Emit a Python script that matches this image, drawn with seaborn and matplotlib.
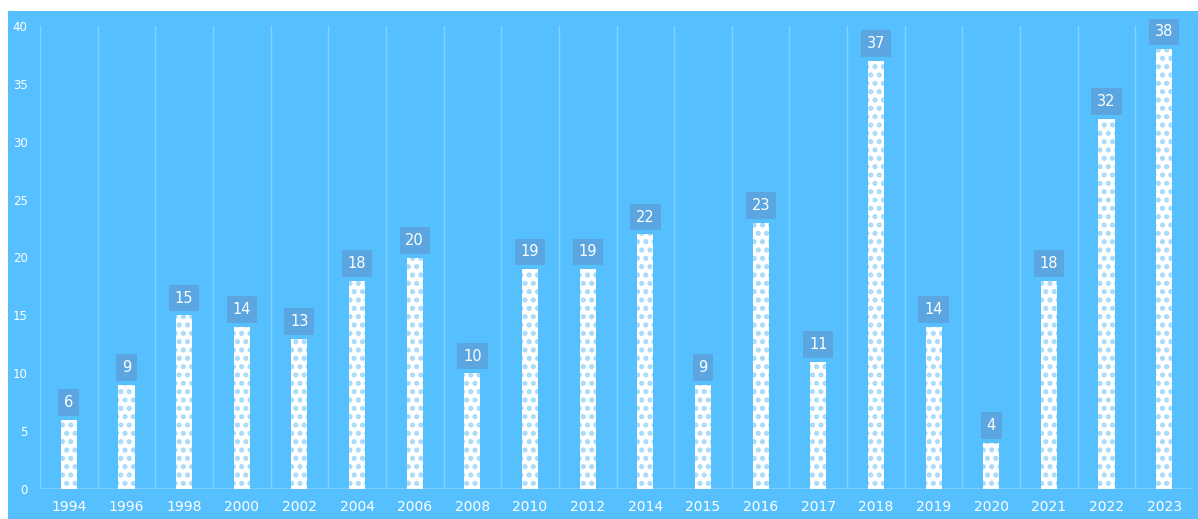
import matplotlib
matplotlib.use("Agg")
import matplotlib.pyplot as plt
from matplotlib.patches import Rectangle
import pandas as pd
import seaborn as sns

years = ["1994", "1996", "1998", "2000", "2002", "2004", "2006", "2008", "2010", "2012",
         "2014", "2015", "2016", "2017", "2018", "2019", "2020", "2021", "2022", "2023"]
counts = [6, 9, 15, 14, 13, 18, 20, 10, 19, 19, 22, 9, 23, 11, 37, 14, 4, 18, 32, 38]

BG = "#56c0ff"
GRID = "#82d2ff"
LABEL_BOX = "#5ba6e0"
CHECK = "#a3d9fb"

df = pd.DataFrame({"year": years, "count": counts})

sns.set_theme(style="white")
plt.rcParams["hatch.linewidth"] = 2.4

fig = plt.figure(figsize=(11.98, 5.19), dpi=100)
fig.patch.set_facecolor("white")
fig.patches.append(Rectangle((8 / 1198, 0), 1, 508 / 519, transform=fig.transFigure,
                             facecolor=BG, edgecolor="none", zorder=-1))
ax = fig.add_axes([40 / 1198, 30 / 519, 1153 / 1198, 463 / 519])
ax.set_facecolor(BG)

# checkered white bars
sns.barplot(data=df, x="year", y="count", ax=ax, color="white", width=0.28,
            saturation=1, edgecolor=CHECK, linewidth=0)
for bar in ax.patches:
    bar.set_hatch("..")
    bar.set_edgecolor(CHECK)
    bar.set_linewidth(0)

for bar in ax.patches:
    h = bar.get_height()
    ax.annotate(f"{int(h)}", (bar.get_x() + bar.get_width() / 2, h),
                xytext=(0, 7), textcoords="offset points", ha="center", va="bottom",
                fontsize=10.5, color="white",
                bbox=dict(boxstyle="square,pad=0.4", facecolor=LABEL_BOX, edgecolor="none"))

ax.set_ylim(0, 40)
ax.set_xlim(-0.5, len(years) - 0.5)
ax.set_yticks(range(0, 41, 5))
for xb in [i - 0.5 for i in range(len(years) + 1)]:
    ax.axvline(xb, color=GRID, linewidth=1, zorder=0)
ax.axhline(0, color=GRID, linewidth=1.2, zorder=0)
for s in ax.spines.values():
    s.set_visible(False)
ax.tick_params(axis="x", colors="white", labelsize=10, length=0, pad=8)
ax.tick_params(axis="y", colors="white", labelsize=8.5, length=0, pad=9)
ax.set_xlabel("")
ax.set_ylabel("")

fig.savefig("out.png", dpi=100)
